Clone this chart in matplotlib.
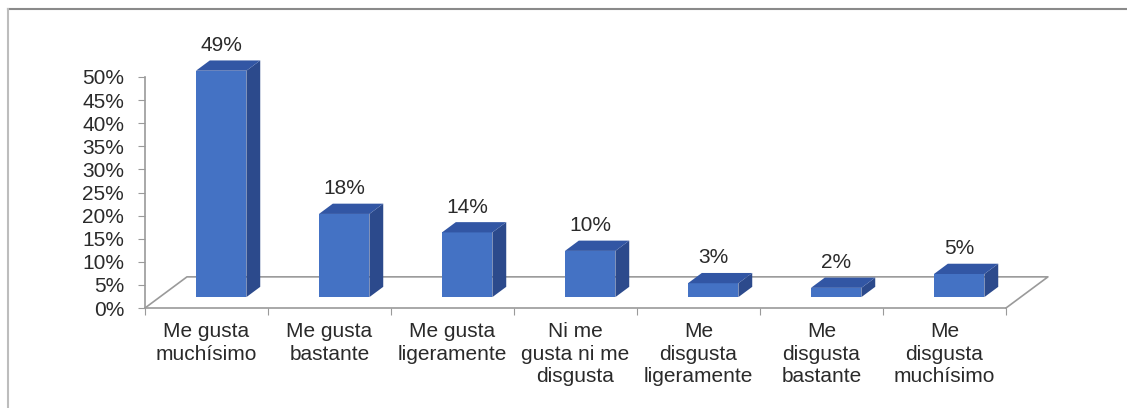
import matplotlib
matplotlib.use("Agg")
import matplotlib.pyplot as plt
from matplotlib.patches import Polygon
from matplotlib.lines import Line2D

plt.rcParams['font.family'] = ['Liberation Sans', 'DejaVu Sans']

# datos
categorias = ['Me gusta\nmuchísimo', 'Me gusta\nbastante', 'Me gusta\nligeramente',
              'Ni me\ngusta ni me\ndisgusta', 'Me\ndisgusta\nligeramente',
              'Me\ndisgusta\nbastante', 'Me\ndisgusta\nmuchísimo']
valores = [49, 18, 14, 10, 3, 2, 5]
ticks_y = [0, 5, 10, 15, 20, 25, 30, 35, 40, 45, 50]

# colores de las caras
c_frente = '#4472C4'
c_lado = '#2C4A8C'
c_arriba = '#3256A4'
c_linea = '#9A9A9A'
c_texto = '#2A2A2A'

W, H = 1127, 408
fig = plt.figure(figsize=(W / 100, H / 100), dpi=100)
ax = fig.add_axes([145 / W, 100 / H, 861 / W, 231 / H])
ax.set_xlim(0, 7)
ax.set_ylim(0, 50)

# profundidad del "3D" (en unidades de datos)
DX = 0.341
DY = 6.74
d0, d1 = 0.35, 0.68
ancho = 0.41

# piso
ax.plot([0, DX, 7 + DX, 7], [0, DY, DY, 0], color=c_linea, lw=1.2, clip_on=False, zorder=1)

for i, v in enumerate(valores):
    x0 = i + 0.5 - ancho / 2 + d0 * DX
    y0 = d0 * DY
    ox = (d1 - d0) * DX
    oy = (d1 - d0) * DY
    frente = Polygon([(x0, y0), (x0 + ancho, y0), (x0 + ancho, y0 + v), (x0, y0 + v)],
                     closed=True, fc=c_frente, ec='none', clip_on=False, zorder=3)
    lado = Polygon([(x0 + ancho, y0), (x0 + ancho + ox, y0 + oy), (x0 + ancho + ox, y0 + oy + v),
                    (x0 + ancho, y0 + v)], closed=True, fc=c_lado, ec='none', clip_on=False, zorder=3)
    arriba = Polygon([(x0, y0 + v), (x0 + ancho, y0 + v), (x0 + ancho + ox, y0 + oy + v),
                      (x0 + ox, y0 + oy + v)], closed=True, fc=c_arriba, ec='none', clip_on=False, zorder=3)
    ax.add_patch(frente)
    ax.add_patch(lado)
    ax.add_patch(arriba)
    ax.annotate(f'{v}%', (x0 + ancho / 2, y0 + oy + v), xytext=(0, 4), textcoords='offset points',
                ha='center', va='bottom', fontsize=15, color=c_texto, annotation_clip=False)

# ejes
for s in ['top', 'right']:
    ax.spines[s].set_visible(False)
ax.spines['left'].set_color(c_linea)
ax.spines['bottom'].set_color(c_linea)
ax.spines['left'].set_linewidth(1.2)
ax.spines['bottom'].set_linewidth(1.2)
ax.set_yticks(ticks_y)
ax.set_yticklabels([f'{t}%' for t in ticks_y], fontsize=15, color=c_texto)
ax.tick_params(axis='y', direction='out', length=5, color=c_linea, pad=10)
ax.set_xticks(range(8))
ax.set_xticklabels([])
ax.set_xticks([i + 0.5 for i in range(7)], minor=True)
ax.set_xticklabels(categorias, minor=True, fontsize=15, color=c_texto, linespacing=1.25)
ax.tick_params(axis='x', which='major', direction='out', length=5, color=c_linea)
ax.tick_params(axis='x', which='minor', length=0, pad=10)
ax.patch.set_alpha(0)

# marco
fig.add_artist(Line2D([8 / W, 1], [1 - 9 / H, 1 - 9 / H], color='#8A8A8A', lw=1.5))
fig.add_artist(Line2D([8 / W, 8 / W], [0, 1 - 9 / H], color='#BDBDBD', lw=1.5))

fig.savefig('out.png', dpi=100)
